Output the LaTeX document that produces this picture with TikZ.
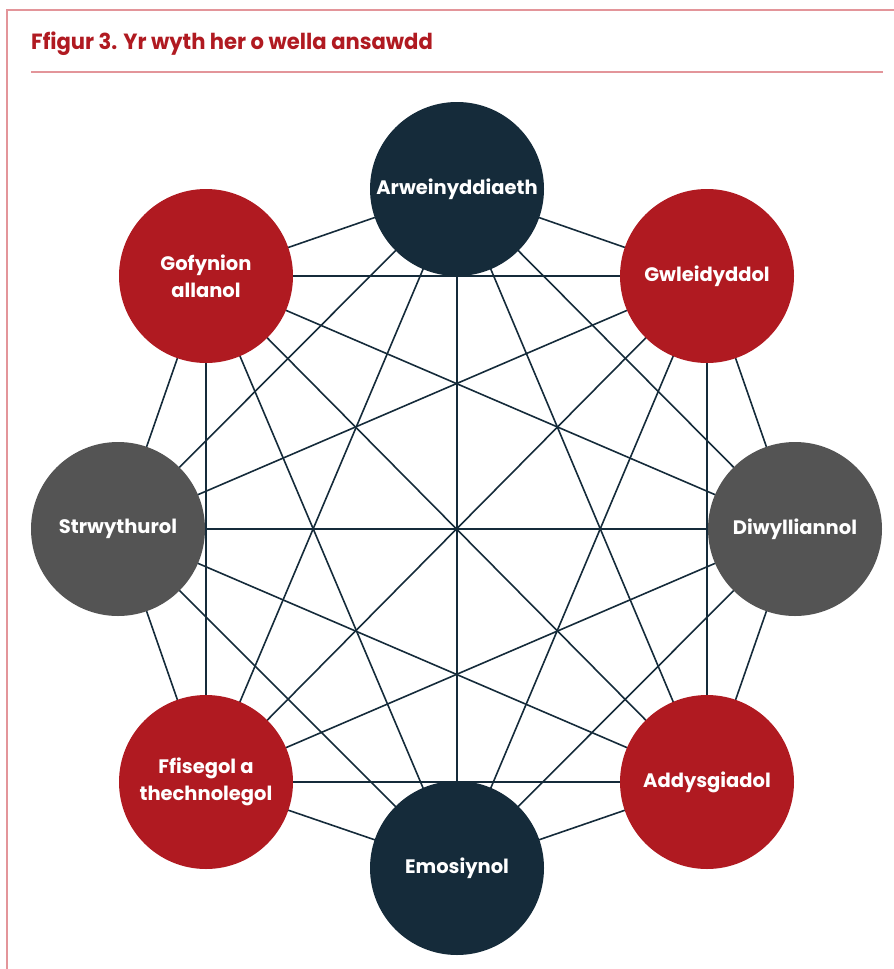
\documentclass[tikz,border=0pt]{standalone}
\usepackage{fontspec}
\setmainfont{Poppins}
\usetikzlibrary{backgrounds}
\definecolor{navy}{HTML}{152B3A}
\definecolor{myred}{HTML}{B01A21}
\definecolor{mygray}{HTML}{545454}
\definecolor{frame}{HTML}{E3959A}
\begin{document}
\begin{tikzpicture}[x=1pt,y=-1pt,
  bubble/.style={circle,minimum size=174pt,inner sep=0pt,text=white,font=\bfseries\fontsize{19.5}{27}\selectfont,align=center},
  link/.style={draw=navy,line width=1.6pt}]
\useasboundingbox (0,0) rectangle (894,969);
\draw[frame,line width=1.3pt] (7,969) -- (7,10) -- (894,10);
\draw[frame,line width=1.3pt] (31,72) -- (883,72);
\node[anchor=west,text=myred,font=\bfseries\fontsize{22}{26}\selectfont,inner sep=0pt] (title) at (31,44) {\scalebox{0.96}[1]{Ffigur 3. Yr wyth her o wella ansawdd}};
\node[bubble,fill=navy] (n1) at (457,189) {Arweinyddiaeth};
\node[bubble,fill=myred] (n2) at (707,276) {Gwleidyddol};
\node[bubble,fill=mygray] (n3) at (795,529) {Diwylliannol};
\node[bubble,fill=myred] (n4) at (707,782) {Addysgiadol};
\node[bubble,fill=navy] (n5) at (457,868) {Emosiynol};
\node[bubble,fill=myred] (n6) at (206,782) {Ffisegol a\\thechnolegol};
\node[bubble,fill=mygray] (n7) at (118,529) {Strwythurol};
\node[bubble,fill=myred] (n8) at (206,276) {Gofynion\\allanol};
\begin{scope}[on background layer]
\foreach \a in {1,...,8}{
  \foreach \b in {1,...,8}{
    \ifnum\a<\b
      \draw[link] (n\a.center) -- (n\b.center);
    \fi
  }
}
\end{scope}
\end{tikzpicture}
\end{document}
